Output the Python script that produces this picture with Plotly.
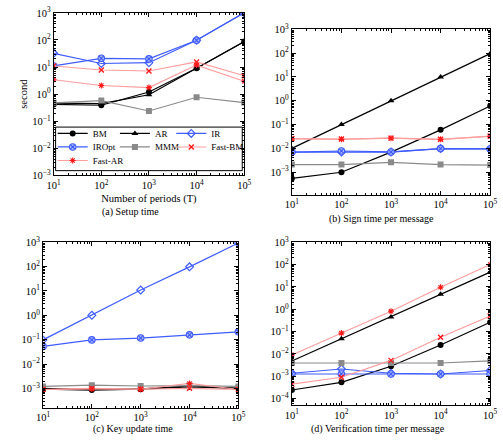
import plotly.graph_objects as go

W, H = 503, 440
FONT = "Liberation Serif"

T = [10, 100, 1000, 10000, 100000]
series_names = ["BM", "AR", "IR", "IROpt", "MMM", "Fast-BM", "Fast-AR"]

# (a) Setup time
setup_BM = [0.42, 0.39, 1.2, 9.0, 88]
setup_AR = [0.47, 0.45, 0.95, 9.0, 86]
setup_IR = [32, 13.5, 14.5, 97, 1000]
setup_IROpt = [11, 21, 20, 97, 1000]
setup_MMM = [0.48, 0.58, 0.24, 0.77, 0.49]
setup_FastBM = [11, 7.8, 7.2, 15.5, 4.8]
setup_FastAR = [3.4, 2.1, 1.75, 11.8, 3.0]

# (b) Sign time per message
sign_BM = [5.5e-4, 1.0e-3, 7e-3, 0.06, 0.6]
sign_AR = [0.01, 0.1, 1.0, 10, 95]
sign_IR = [7e-3, 7e-3, 7e-3, 9.8e-3, 9.5e-3]
sign_IROpt = [7e-3, 7.8e-3, 7.1e-3, 9.8e-3, 9.5e-3]
sign_MMM = [2.1e-3, 2.1e-3, 2.6e-3, 2.1e-3, 2.0e-3]
sign_FastBM = [0.026, 0.025, 0.027, 0.024, 0.033]
sign_FastAR = [0.025, 0.024, 0.027, 0.024, 0.032]

# (c) Key update time
upd_BM = [0.93e-3, 0.85e-3, 0.93e-3, 1.15e-3, 1.0e-3]
upd_AR = [1.0e-3, 0.9e-3, 0.95e-3, 1.25e-3, 1.0e-3]
upd_IR = [0.098, 1.0, 11, 98, 940]
upd_IROpt = [0.053, 0.098, 0.117, 0.158, 0.21]
upd_MMM = [1.2e-3, 1.35e-3, 1.25e-3, 1.3e-3, 1.2e-3]
upd_FastBM = [0.9e-3, 1.0e-3, 0.92e-3, 1.0e-3, 0.9e-3]
upd_FastAR = [0.9e-3, 0.95e-3, 0.92e-3, 1.6e-3, 0.9e-3]

# (d) Verification time per message
ver_BM = [2.4e-4, 5.3e-4, 2.8e-3, 0.025, 0.26]
ver_AR = [4.8e-3, 0.047, 0.45, 4.7, 46]
ver_IR = [1.35e-3, 2.1e-3, 1.35e-3, 1.25e-3, 1.8e-3]
ver_IROpt = [1.25e-3, 1.25e-3, 1.25e-3, 1.25e-3, 1.25e-3]
ver_MMM = [3.9e-3, 3.9e-3, 3.9e-3, 3.9e-3, 4.8e-3]
ver_FastBM = [4.4e-4, 9e-4, 5.1e-3, 0.056, 0.5]
ver_FastAR = [9e-3, 0.085, 0.82, 9.7, 100]

x_tickvals = [10, 100, 1000, 10000, 100000]
x_ticktext = ["10<sup>1</sup>", "10<sup>2</sup>", "10<sup>3</sup>", "10<sup>4</sup>", "10<sup>5</sup>"]
y_tickvals = [1e-4, 1e-3, 1e-2, 1e-1, 1, 10, 100, 1000]
y_ticktext = ["10<sup>−4</sup>", "10<sup>−3</sup>", "10<sup>−2</sup>", "10<sup>−1</sup>",
              "10<sup>0</sup>", "10<sup>1</sup>", "10<sup>2</sup>", "10<sup>3</sup>"]
captions = ["(a) Setup time", "(b) Sign time per message",
            "(c) Key update time", "(d) Verification time per message"]

panels = [
    [setup_BM, setup_AR, setup_IR, setup_IROpt, setup_MMM, setup_FastBM, setup_FastAR],
    [sign_BM, sign_AR, sign_IR, sign_IROpt, sign_MMM, sign_FastBM, sign_FastAR],
    [upd_BM, upd_AR, upd_IR, upd_IROpt, upd_MMM, upd_FastBM, upd_FastAR],
    [ver_BM, ver_AR, ver_IR, ver_IROpt, ver_MMM, ver_FastBM, ver_FastAR],
]

BLUE = "#3f5cff"
LBLUE = "#a9b8ff"
GRAY = "#8a8a8a"
LRED = "#ff9d9d"
RED = "#ff1a1a"

styles = {
    "BM": dict(line=dict(color="black", width=1.2),
               marker=dict(symbol="circle", size=6, color="black")),
    "AR": dict(line=dict(color="black", width=1.2),
               marker=dict(symbol="triangle-up", size=6, color="black")),
    "IR": dict(line=dict(color=BLUE, width=1.2),
               marker=dict(symbol="diamond-open", size=6, color=BLUE, line=dict(width=1.2, color=BLUE))),
    "IROpt": dict(line=dict(color=BLUE, width=1.2),
                  marker=dict(symbol="circle-x", size=6.5, color=LBLUE, line=dict(width=1.1, color=BLUE))),
    "MMM": dict(line=dict(color=GRAY, width=1.2),
                marker=dict(symbol="square", size=6, color=GRAY)),
    "Fast-BM": dict(line=dict(color=LRED, width=1.1),
                    marker=dict(symbol="x-thin", size=5, color=RED, line=dict(width=1.4, color=RED))),
    "Fast-AR": dict(line=dict(color=LRED, width=1.1),
                    marker=dict(symbol="asterisk", size=5, color=RED, line=dict(width=1.1, color=RED))),
}

# each legend entry is its own legend so the three columns can be placed freely
legend_keys = {"BM": "legend", "AR": "legend2", "IR": "legend3",
               "IROpt": "legend4", "MMM": "legend5", "Fast-BM": "legend6",
               "Fast-AR": "legend7"}
col_x = [47, 111, 169]
row_y = [129.5, 143.5, 157.5]
legend_cells = {"BM": (0, 0), "AR": (1, 0), "IR": (2, 0),
                "IROpt": (0, 1), "MMM": (1, 1), "Fast-BM": (2, 1),
                "Fast-AR": (0, 2)}

# panel frames in pixels: (left, right, top, bottom) and y range (log)
frames = [(48, 244, 5, 173, [-3, 3]),
          (293, 497, 22, 193, [-3.95, 3]),
          (37, 238, 242, 413, [-3.8, 3]),
          (293, 497, 242, 410, [-4.29, 3])]

fig = go.Figure()
for p, vals in enumerate(panels):
    suffix = "" if p == 0 else str(p + 1)
    for name, ys in zip(series_names, vals):
        st = styles[name]
        fig.add_trace(go.Scatter(
            x=T, y=ys, mode="lines+markers", name=name,
            line=st["line"], marker=st["marker"],
            xaxis="x" + suffix, yaxis="y" + suffix,
            showlegend=(p == 0), legend=legend_keys[name]))

minor_x = [m * 10 ** e for e in range(1, 5) for m in range(2, 10)]
minor_y = [m * 10.0 ** e for e in range(-5, 3) for m in range(2, 10)]

layout = dict(
    width=W, height=H, margin=dict(l=0, r=0, t=0, b=0),
    paper_bgcolor="white", plot_bgcolor="white",
    font=dict(family=FONT, size=10.5, color="black"),
)
for p, (l, r, t, b, yr) in enumerate(frames):
    suffix = "" if p == 0 else str(p + 1)
    layout["xaxis" + suffix] = dict(
        type="log", range=[1, 5], domain=[l / W, r / W],
        anchor="y" + suffix,
        tickmode="array", tickvals=x_tickvals, ticktext=x_ticktext,
        ticks="inside", ticklen=4, tickwidth=0.8, tickcolor="black",
        showline=True, linecolor="black", linewidth=1, mirror="ticks",
        showgrid=False, zeroline=False,
        minor=dict(tickmode="array", tickvals=minor_x, ticks="inside", ticklen=2,
                   tickwidth=0.6, tickcolor="black", showgrid=False),
        tickfont=dict(family=FONT, size=10.5),
    )
    layout["yaxis" + suffix] = dict(
        type="log", range=yr, domain=[1 - b / H, 1 - t / H],
        anchor="x" + suffix,
        tickmode="array", tickvals=y_tickvals, ticktext=y_ticktext,
        ticks="inside", ticklen=4, tickwidth=0.8, tickcolor="black",
        showline=True, linecolor="black", linewidth=1, mirror="ticks",
        showgrid=False, zeroline=False,
        minor=dict(tickmode="array", tickvals=minor_y, ticks="inside", ticklen=2,
                   tickwidth=0.6, tickcolor="black", showgrid=False),
        tickfont=dict(family=FONT, size=10.5),
    )

layout["xaxis"]["title"] = dict(text="Number of periods (T)", font=dict(family=FONT, size=10.5), standoff=4)
layout["yaxis"]["title"] = dict(text="second", font=dict(family=FONT, size=10.5), standoff=2)

for name, key in legend_keys.items():
    c, r = legend_cells[name]
    layout[key] = dict(
        orientation="h", x=col_x[c] / W, xanchor="left", y=1 - row_y[r] / H, yanchor="middle",
        bgcolor="rgba(0,0,0,0)", borderwidth=0, itemwidth=30,
        font=dict(family=FONT, size=9), itemclick=False, itemdoubleclick=False,
    )

layout["shapes"] = [dict(type="rect", xref="paper", yref="paper",
                         x0=50 / W, x1=242 / W, y0=1 - 168 / H, y1=1 - 123 / H,
                         line=dict(color="black", width=1), fillcolor="rgba(0,0,0,0)")]

cap_pos = [(127, 211), (385, 218), (130, 435), (382, 435)]
layout["annotations"] = [dict(text=c, x=cx / W, y=1 - cy / H, xref="paper", yref="paper",
                              showarrow=False, xanchor="center", yanchor="middle",
                              font=dict(family=FONT, size=10))
                         for c, (cx, cy) in zip(captions, cap_pos)]

fig.update_layout(**layout)
fig.write_html("out.html", config={"displayModeBar": False},
               post_script="document.body.style.margin='0';document.body.style.padding='0';")
